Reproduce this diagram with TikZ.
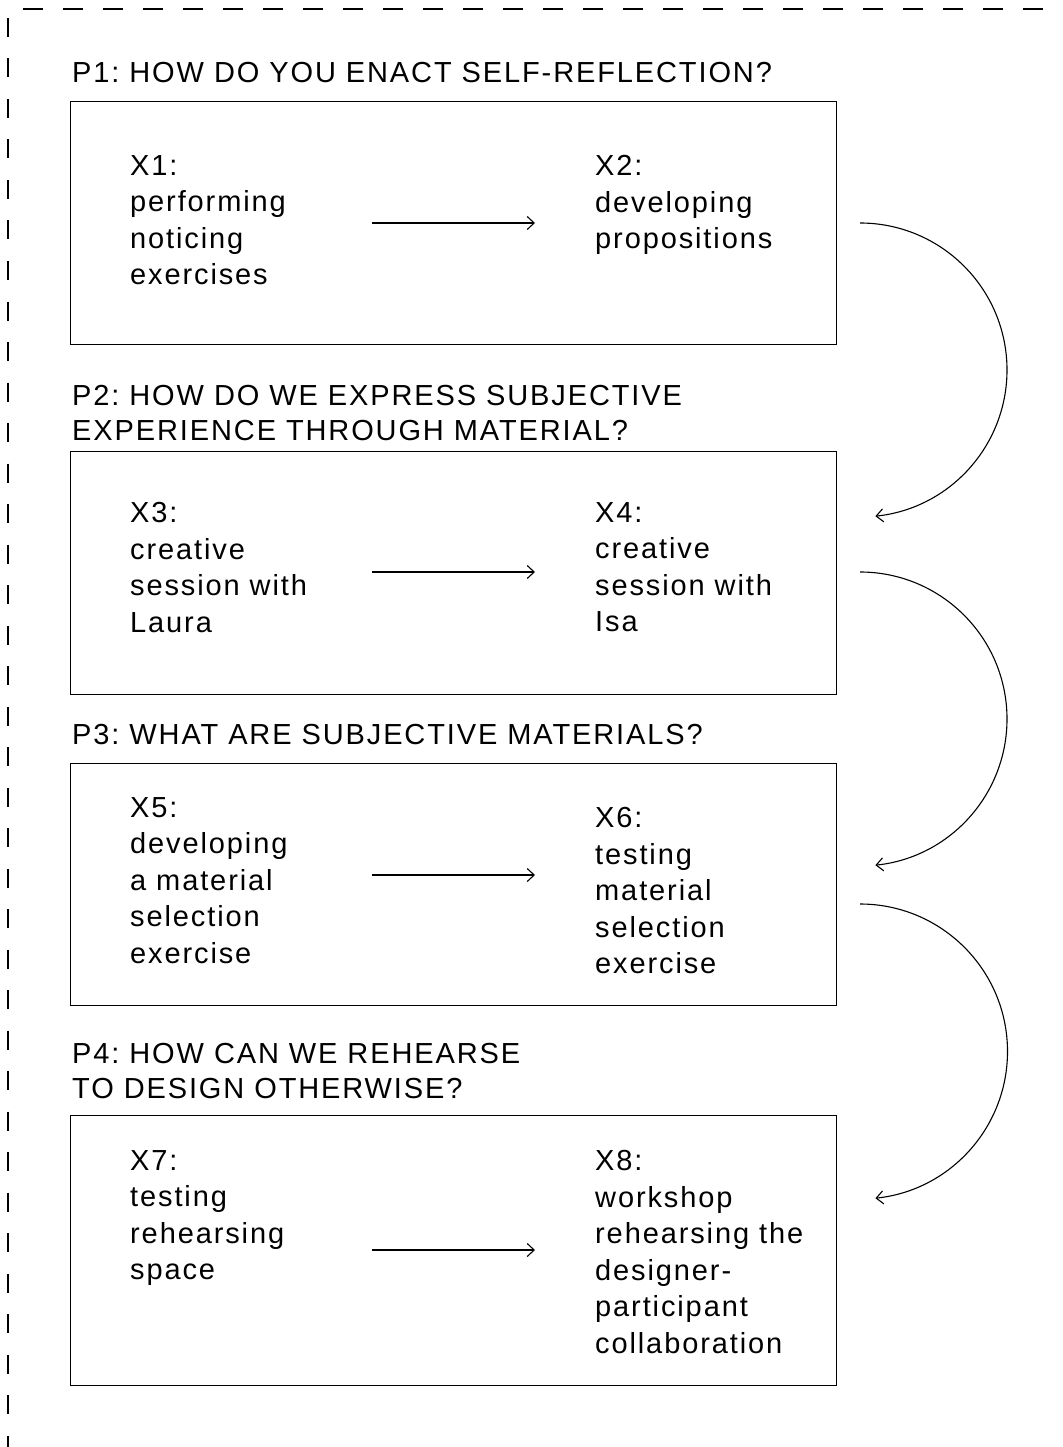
\documentclass[tikz,border=0pt]{standalone}
\usepackage{fontspec}
\setmainfont{Liberation Sans}
\newfontfamily\titlefont[LetterSpace=6.5]{Liberation Sans}
\newfontfamily\bodyfont[LetterSpace=6.5]{Liberation Sans}
\usetikzlibrary{arrows.meta}
\frenchspacing
\begin{document}
\begin{tikzpicture}[x=1pt,y=-1pt,
  frame/.style={draw, line width=1.4pt, inner sep=0pt, anchor=north west},
  ptitle/.style={anchor=north west, inner sep=0pt, align=left, font=\titlefont\fontsize{29}{35.5}\selectfont\frenchspacing},
  item/.style={anchor=north west, inner sep=0pt, align=left, font=\bodyfont\fontsize{29}{36.6}\selectfont\frenchspacing},
  flow/.style={line width=1.1pt, -{Straight Barb[length=7pt,width=13pt]}},
  border/.style={line width=1.5pt}]
\useasboundingbox (0,0) rectangle (1062,1447);

% dashed frame (top and left edges visible)
\coordinate (fr1) at (23,9);
\coordinate (fr2) at (1062,9);
\coordinate (fl1) at (8,18);
\coordinate (fl2) at (8,1447);
\draw[border, dash pattern=on 20pt off 20pt] (fr1) -- (fr2);
\draw[border, dash pattern=on 19pt off 21.5pt] (fl1) -- (fl2);

% boxes
\node[frame, minimum width=766pt, minimum height=243pt] (b1) at (70,101) {};
\node[frame, minimum width=766pt, minimum height=243pt] (b2) at (70,451) {};
\node[frame, minimum width=766pt, minimum height=242pt] (b3) at (70,763) {};
\node[frame, minimum width=766pt, minimum height=270pt] (b4) at (70,1115) {};

% titles
\node[ptitle] (p1) at (72,62) {P1: HOW DO YOU ENACT SELF-REFLECTION?};
\node[ptitle] (p2) at (72,385) {P2: HOW DO WE EXPRESS SUBJECTIVE\\EXPERIENCE THROUGH MATERIAL?};
\node[ptitle] (p3) at (72,724) {P3: WHAT ARE SUBJECTIVE MATERIALS?};
\node[ptitle] (p4) at (72,1043) {P4: HOW CAN WE REHEARSE\\TO DESIGN OTHERWISE?};

% items
\node[item] (x1) at (130,155) {X1:\\performing\\noticing\\exercises};
\node[item] (x2) at (595,155) {X2:\\developing\\propositions};
\node[item] (x3) at (130,502) {X3:\\creative\\session with\\Laura};
\node[item] (x4) at (595,502) {X4:\\creative\\session with\\Isa};
\node[item] (x5) at (130,797) {X5:\\developing\\a material\\selection\\exercise};
\node[item] (x6) at (595,807) {X6:\\testing\\material\\selection\\exercise};
\node[item] (x7) at (130,1150) {X7:\\testing\\rehearsing\\space};
\node[item] (x8) at (595,1150) {X8:\\workshop\\rehearsing the\\designer-\\participant\\collaboration};

% horizontal arrows
\coordinate (h1s) at (372,223); \coordinate (h1e) at (535,223);
\coordinate (h2s) at (372,572); \coordinate (h2e) at (535,572);
\coordinate (h3s) at (372,875); \coordinate (h3e) at (535,875);
\coordinate (h4s) at (372,1250); \coordinate (h4e) at (535,1250);
\draw[flow] (h1s) -- (h1e);
\draw[flow] (h2s) -- (h2e);
\draw[flow] (h3s) -- (h3e);
\draw[flow] (h4s) -- (h4e);

% curved arrows between boxes
\coordinate (c1s) at (860,223);
\coordinate (c2s) at (860,572);
\coordinate (c3s) at (860,904);
\draw[flow] (c1s) arc[start angle=-90, end angle=84, radius=147];
\draw[flow] (c2s) arc[start angle=-90, end angle=84, radius=147];
\draw[flow] (c3s) arc[start angle=-90, end angle=84, radius=147.5];
\end{tikzpicture}
\end{document}
